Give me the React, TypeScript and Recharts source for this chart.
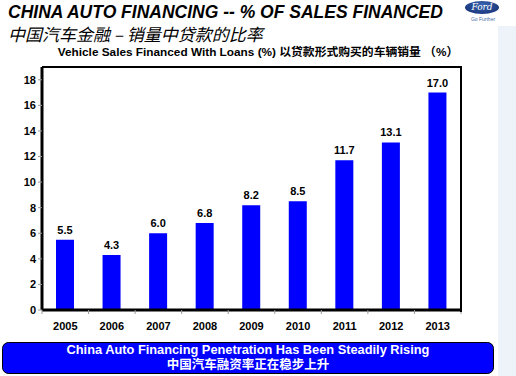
import { BarChart, Bar, XAxis, YAxis, LabelList } from 'recharts';

const years = ['2005', '2006', '2007', '2008', '2009', '2010', '2011', '2012', '2013'];
const financedPct = [5.5, 4.3, 6.0, 6.8, 8.2, 8.5, 11.7, 13.1, 17.0];
const yTicks = [0, 2, 4, 6, 8, 10, 12, 14, 16, 18];

const data = years.map((year, i) => ({ year, value: financedPct[i] }));

const FONT = '"Liberation Sans", Arial, "Noto Sans CJK SC", sans-serif';
const HALF_BAND = (461 - 42) / 9 / 2;

// year label plus small tick marks at the category boundaries
const YearTick = ({ x, y, payload, index }: any) => (
  <g>
    <line x1={x - HALF_BAND} y1={y - 8} x2={x - HALF_BAND} y2={y - 4} stroke="#999" />
    {index === years.length - 1 && (
      <line x1={x + HALF_BAND} y1={y - 8} x2={x + HALF_BAND} y2={y - 4} stroke="#999" />
    )}
    <text x={x} y={y + 12} textAnchor="middle" fontSize={11} fontWeight="bold" fill="#000" fontFamily={FONT}>
      {payload.value}
    </text>
  </g>
);

const App = () => {
  return (
    <div style={{ position: 'absolute', left: 0, top: 0, width: 516, height: 376, background: '#fff', fontFamily: FONT, overflow: 'hidden' }}>
      {/* pale strip on the right */}
      <div style={{ position: 'absolute', left: 498, top: 26, width: 18, height: 350, background: '#eef3f9' }} />

      <div style={{ position: 'absolute', left: 8, top: 2, fontSize: 17.5, fontWeight: 'bold', fontStyle: 'italic', whiteSpace: 'nowrap', color: '#000' }}>
        CHINA AUTO FINANCING -- % OF SALES FINANCED
      </div>
      <div style={{ position: 'absolute', left: 8, top: 21, fontSize: 17, fontStyle: 'italic', whiteSpace: 'nowrap', color: '#000', fontFamily: '"Noto Sans CJK SC", sans-serif' }}>
        中国汽车金融 – 销量中贷款的比率
      </div>
      <div style={{ position: 'absolute', left: 0, width: 516, top: 42, fontSize: 11.8, fontWeight: 'bold', textAlign: 'center', whiteSpace: 'nowrap', color: '#000' }}>
        Vehicle Sales Financed With Loans (%) 以贷款形式购买的车辆销量 （%）
      </div>

      {/* Ford logo */}
      <div style={{ position: 'absolute', left: 465, top: 1, width: 34, height: 13, borderRadius: '50%', background: 'radial-gradient(ellipse at 50% 30%, #3a64b0, #102a6e)', color: '#fff', fontSize: 9, fontStyle: 'italic', fontFamily: '"DejaVu Serif", serif', textAlign: 'center', lineHeight: '13px' }}>
        Ford
      </div>
      <div style={{ position: 'absolute', left: 466, top: 16, width: 34, fontSize: 5, textAlign: 'center', color: '#4a6fa8' }}>
        Go Further
      </div>

      <BarChart
        width={516}
        height={376}
        data={data}
        margin={{ top: 67, right: 55, bottom: 36, left: 12 }}
        barCategoryGap={0}
      >
        <XAxis
          dataKey="year"
          axisLine={{ stroke: '#000', strokeWidth: 3 }}
          tickLine={false}
          tick={<YearTick />}
          height={30}
          interval={0}
        />
        <YAxis
          domain={[0, 19]}
          ticks={yTicks}
          width={30}
          axisLine={{ stroke: '#000', strokeWidth: 3 }}
          tickLine={{ stroke: '#999' }}
          tickSize={4}
          tick={{ fontSize: 11, fontWeight: 'bold', fill: '#000', fontFamily: FONT }}
          interval={0}
        />
        <Bar dataKey="value" fill="#0000ff" barSize={18} isAnimationActive={false}>
          <LabelList
            dataKey="value"
            position="top"
            offset={6}
            formatter={(v: any) => Number(v).toFixed(1)}
            style={{ fontSize: 11, fontWeight: 'bold', fill: '#000', fontFamily: FONT }}
          />
        </Bar>
      </BarChart>

      {/* top and right frame of the plot box */}
      <div style={{ position: 'absolute', left: 42, top: 66, width: 418, height: 244, borderTop: '2px solid #000', borderRight: '2px solid #000', pointerEvents: 'none' }} />

      {/* bottom banner */}
      <svg style={{ position: 'absolute', left: 0, top: 340 }} width={500} height={36}>
        <rect x={2.5} y={2.5} width={491} height={31} rx={6} fill="#0000ff" stroke="#000" strokeWidth={1} />
        <text x={248} y={14} textAnchor="middle" fill="#fff" fontSize={12.8} fontWeight="bold" fontFamily={FONT}>
          China Auto Financing Penetration Has Been Steadily Rising
        </text>
        <text x={248} y={28.5} textAnchor="middle" fill="#fff" fontSize={12.5} fontWeight="bold" fontFamily='"Noto Sans CJK SC", sans-serif'>
          中国汽车融资率正在稳步上升
        </text>
      </svg>
    </div>
  );
};

export default App;
